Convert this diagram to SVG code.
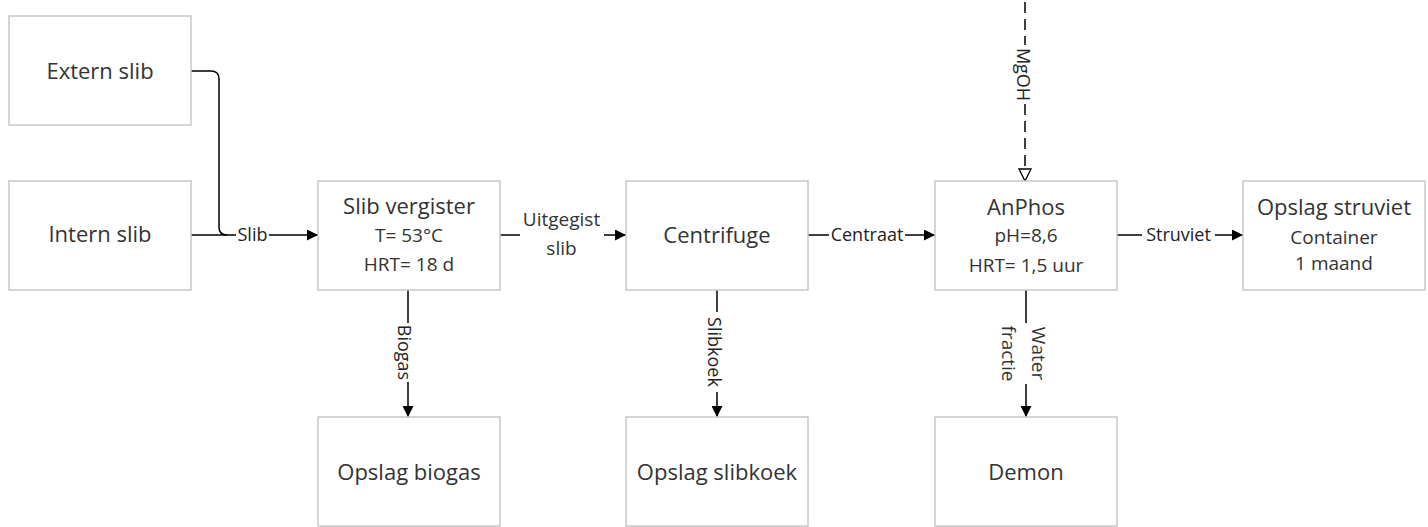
<svg xmlns="http://www.w3.org/2000/svg" width="1428" height="527" viewBox="0 0 1428 527">
  <style>
    .box { fill: #ffffff; stroke: #c8c8c8; stroke-width: 1.5; }
    .title { font-family: "Open Sans", "Noto Sans", sans-serif; font-size: 22px; fill: #333333; text-anchor: middle; }
    .sub { font-family: "Open Sans", "Noto Sans", sans-serif; font-size: 19px; fill: #333333; text-anchor: middle; }
    .edge { fill: none; stroke: #000000; stroke-width: 1.5; }
    .dash { fill: none; stroke: #000000; stroke-width: 1.5; stroke-dasharray: 11 6; }
    .lbl { font-family: "Open Sans", "Noto Sans", sans-serif; font-size: 18px; fill: #222222; text-anchor: middle; }
  </style>
  <defs>
    <marker id="arrow" viewBox="0 0 10 10" refX="10" refY="5" markerWidth="11" markerHeight="11" markerUnits="userSpaceOnUse" orient="auto">
      <path d="M0,0 L10,5 L0,10 z" fill="#000000"/>
    </marker>
    <marker id="open" viewBox="0 0 14 14" refX="13" refY="7" markerWidth="14" markerHeight="14" markerUnits="userSpaceOnUse" orient="auto">
      <path d="M1,1 L13,7 L1,13 z" fill="#ffffff" stroke="#000000" stroke-width="1.3"/>
    </marker>
  </defs>

  <rect width="1428" height="527" fill="#ffffff"/>

  <!-- flow lines -->
  <g id="connectors">
    <!-- external sludge joins the internal sludge line -->
    <path class="edge" d="M191,71 H211 Q219,71 219,79 V227 Q219,235 227,235"/>
    <path class="edge" d="M191,235 H236"/>
    <path class="edge" d="M269,235 H318" marker-end="url(#arrow)"/>
    <text class="lbl" x="252.5" y="241">Slib</text>

    <!-- digester to centrifuge -->
    <path class="edge" d="M500,235 H520"/>
    <path class="edge" d="M604,235 H626" marker-end="url(#arrow)"/>
    <text class="sub" x="561.5" y="226">Uitgegist</text>
    <text class="sub" x="561.5" y="255">slib</text>

    <!-- centrifuge to AnPhos -->
    <path class="edge" d="M808,235 H829"/>
    <path class="edge" d="M905,235 H935" marker-end="url(#arrow)"/>
    <text class="lbl" x="867" y="241">Centraat</text>

    <!-- AnPhos to struvite storage -->
    <path class="edge" d="M1117,235 H1142"/>
    <path class="edge" d="M1215,235 H1243" marker-end="url(#arrow)"/>
    <text class="lbl" x="1178.5" y="241">Struviet</text>

    <!-- biogas -->
    <path class="edge" d="M408,290 V323"/>
    <path class="edge" d="M408,382 V417" marker-end="url(#arrow)"/>
    <text class="lbl" transform="translate(398,352.5) rotate(90)">Biogas</text>

    <!-- sludge cake -->
    <path class="edge" d="M717,290 V312"/>
    <path class="edge" d="M717,392 V417" marker-end="url(#arrow)"/>
    <text class="lbl" transform="translate(708,352) rotate(90)">Slibkoek</text>

    <!-- water fraction -->
    <path class="edge" d="M1026,290 V323"/>
    <path class="edge" d="M1026,384 V417" marker-end="url(#arrow)"/>
    <text class="sub" transform="translate(1032,353.5) rotate(90)">Water</text>
    <text class="sub" transform="translate(1002,353.5) rotate(90)">fractie</text>

    <!-- MgOH dosing -->
    <path class="dash" d="M1025,2 V45"/>
    <path class="dash" d="M1025,104 V181" marker-end="url(#open)"/>
    <text class="lbl" transform="translate(1017,74.5) rotate(90)">MgOH</text>
  </g>

  <g id="extern-slib">
    <rect class="box" x="9" y="16" width="182" height="109"/>
    <text class="title" x="100" y="79">Extern slib</text>
  </g>
  <g id="intern-slib">
    <rect class="box" x="9" y="181" width="182" height="109"/>
    <text class="title" x="100" y="242">Intern slib</text>
  </g>
  <g id="slib-vergister">
    <rect class="box" x="318" y="181" width="182" height="109"/>
    <text class="title" x="409" y="214">Slib vergister</text>
    <text class="sub" x="409" y="242">T= 53°C</text>
    <text class="sub" x="409" y="271">HRT= 18 d</text>
  </g>
  <g id="centrifuge">
    <rect class="box" x="626" y="181" width="182" height="109"/>
    <text class="title" x="717" y="243">Centrifuge</text>
  </g>
  <g id="anphos">
    <rect class="box" x="935" y="181" width="182" height="109"/>
    <text class="title" x="1026" y="215">AnPhos</text>
    <text class="sub" x="1026" y="242">pH=8,6</text>
    <text class="sub" x="1026" y="272">HRT= 1,5 uur</text>
  </g>
  <g id="opslag-struviet">
    <rect class="box" x="1243" y="181" width="182" height="109"/>
    <text class="title" x="1334" y="215">Opslag struviet</text>
    <text class="sub" x="1334" y="244">Container</text>
    <text class="sub" x="1334" y="270">1 maand</text>
  </g>
  <g id="opslag-biogas">
    <rect class="box" x="318" y="417" width="182" height="109"/>
    <text class="title" x="409" y="480">Opslag biogas</text>
  </g>
  <g id="opslag-slibkoek">
    <rect class="box" x="626" y="417" width="182" height="109"/>
    <text class="title" x="717" y="480">Opslag slibkoek</text>
  </g>
  <g id="demon">
    <rect class="box" x="935" y="417" width="182" height="109"/>
    <text class="title" x="1026" y="480">Demon</text>
  </g>
</svg>
